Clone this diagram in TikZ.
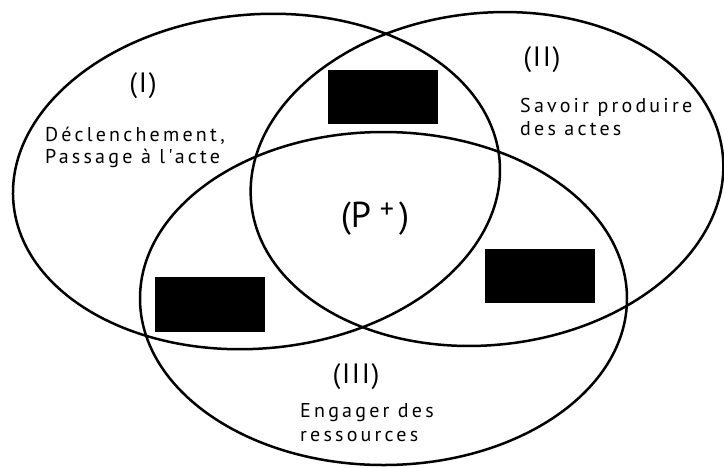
\documentclass[tikz,border=0pt]{standalone}
\usepackage{fontspec}
\setmainfont{PT Sans}
\newfontfamily\bodyfont[LetterSpace=16]{PT Sans}
\newfontfamily\numfont[LetterSpace=6]{PT Sans}
\begin{document}
\begin{tikzpicture}[x=1pt,y=-1pt,
  ring/.style={draw=black, line width=2.5pt},
  redact/.style={fill=black, draw=none, inner sep=0pt},
  numeral/.style={font=\numfont\fontsize{28}{32}\selectfont, inner sep=0pt},
  body/.style={font=\bodyfont\fontsize{20}{24}\selectfont, inner sep=0pt, anchor=base west},
  centre/.style={font=\fontsize{36}{40}\selectfont, inner sep=0pt}]
\useasboundingbox (0,0) rectangle (724,467);
\fill[white] (0,0) rectangle (724,467);
% centres of the three sets
\coordinate (cI) at (256.5,181.5);
\coordinate (cII) at (487,179);
\coordinate (cIII) at (383.5,298.5);
\draw[ring, rotate around={5:(cI)}] (cI) ellipse [x radius=244pt, y radius=167pt];
\draw[ring, rotate around={6:(cII)}] (cII) ellipse [x radius=237pt, y radius=166pt];
\draw[ring] (cIII) ellipse [x radius=243.5pt, y radius=166.5pt];
% redacted boxes
\node[redact, minimum width=110pt, minimum height=54pt] (boxtop) at (383,97) {};
\node[redact, minimum width=110pt, minimum height=55pt] (boxleft) at (210,304.5) {};
\node[redact, minimum width=110pt, minimum height=54pt] (boxright) at (540,276) {};
% labels
\node[numeral] (numI) at (143,86) {(I)};
\node[body] (tI1) at (45,141) {Déclenchement,};
\node[body] (tI2) at (45,163) {Passage à l'acte};
\node[numeral] (numII) at (542,60) {(II)};
\node[body] (tII1) at (520,112) {Savoir produire};
\node[body] (tII2) at (520,135) {des actes};
\node[numeral] (numIII) at (356,377) {(III)};
\node[body] (tIII1) at (300,417) {Engager des};
\node[body] (tIII2) at (300,441) {ressources};
\node[centre] (pplus) at (375,219) {(P\hspace{9pt}\raisebox{9pt}{\fontsize{28}{28}\selectfont +}\hspace{5pt})};
\end{tikzpicture}
\end{document}
